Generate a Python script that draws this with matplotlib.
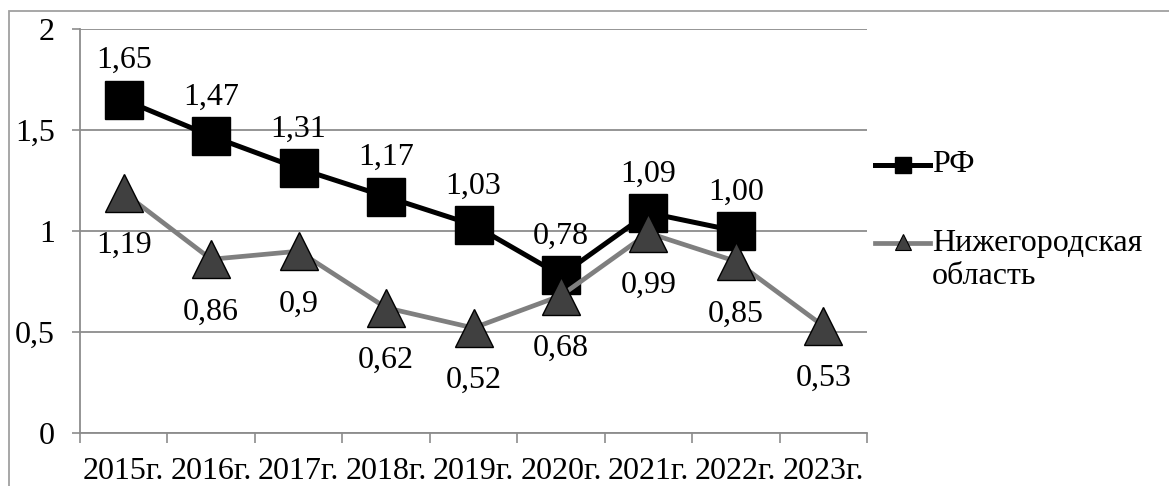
import matplotlib
matplotlib.use('Agg')
import matplotlib.pyplot as plt
from matplotlib.lines import Line2D
from matplotlib.patches import Rectangle

plt.rcParams['font.family'] = ['Liberation Serif', 'DejaVu Serif']

years = ['2015г.', '2016г.', '2017г.', '2018г.', '2019г.', '2020г.', '2021г.', '2022г.', '2023г.']
rf_values = [1.65, 1.47, 1.31, 1.17, 1.03, 0.78, 1.09, 1.00]
rf_labels = ['1,65', '1,47', '1,31', '1,17', '1,03', '0,78', '1,09', '1,00']
nn_values = [1.19, 0.86, 0.9, 0.62, 0.52, 0.68, 0.99, 0.85, 0.53]
nn_labels = ['1,19', '0,86', '0,9', '0,62', '0,52', '0,68', '0,99', '0,85', '0,53']
y_ticks = [0, 0.5, 1, 1.5, 2]
y_ticklabels = ['0', '0,5', '1', '1,5', '2']

W, H = 1169, 486
FS = 23
grid_col = '#8c8c8c'
nn_col = '#7f7f7f'
nn_fill = '#404040'

fig = plt.figure(figsize=(W / 100, H / 100), dpi=100)
ax = fig.add_axes([80 / W, (H - 433) / H, (867 - 80) / W, (433 - 29) / H])

# outer chart border (right/bottom fall outside the picture)
fig.add_artist(Rectangle((9 / W, -0.05), 1.2, (H - 11) / H + 0.05,
                         transform=fig.transFigure, fill=False,
                         edgecolor='#a0a0a0', linewidth=1.3))

x_rf = list(range(len(rf_values)))
x_nn = list(range(len(nn_values)))

ax.plot(x_rf, rf_values, color='black', linewidth=3.6, marker='s',
        markersize=27, markerfacecolor='black', markeredgecolor='black', zorder=3)
ax.plot(x_nn, nn_values, color=nn_col, linewidth=3.4, marker='^',
        markersize=27, markerfacecolor=nn_fill, markeredgecolor='black',
        markeredgewidth=1.0, zorder=4)

for x, v, t in zip(x_rf, rf_values, rf_labels):
    ax.annotate(t, (x, v), xytext=(0, 28), textcoords='offset points',
                ha='center', va='center', fontsize=FS, zorder=5)
for x, v, t in zip(x_nn, nn_values, nn_labels):
    ax.annotate(t, (x, v), xytext=(0, -38), textcoords='offset points',
                ha='center', va='center', fontsize=FS, zorder=5)

ax.set_xlim(-0.5, len(years) - 0.5)
ax.set_ylim(0, 2)

ax.set_yticks(y_ticks)
ax.set_yticklabels(y_ticklabels, fontsize=FS)
ax.tick_params(axis='y', length=6, width=1.2, color=grid_col, pad=12)

ax.set_xticks([i - 0.5 for i in range(len(years) + 1)])
ax.set_xticklabels([])
ax.set_xticks(range(len(years)), minor=True)
ax.set_xticklabels(years, minor=True, fontsize=FS)
ax.tick_params(axis='x', which='major', length=7, width=1.2, color=grid_col, direction='out')
ax.tick_params(axis='x', which='minor', length=0, pad=17)

ax.grid(axis='y', color=grid_col, linewidth=1.3)
ax.set_axisbelow(True)
for s in ['top', 'right']:
    ax.spines[s].set_visible(False)
for s in ['left', 'bottom']:
    ax.spines[s].set_color(grid_col)
    ax.spines[s].set_linewidth(1.3)

# legend drawn by hand so the marker sits on the first text line
def fx(px):
    return px / W

def fy(py):
    return (H - py) / H

fig.add_artist(Line2D([fx(875), fx(930)], [fy(165), fy(165)], transform=fig.transFigure,
                      color='black', linewidth=3.6))
fig.add_artist(Line2D([fx(902.5)], [fy(165)], transform=fig.transFigure,
                      linestyle='none', marker='s', markersize=11, color='black'))
fig.add_artist(Line2D([fx(875), fx(930)], [fy(243), fy(243)], transform=fig.transFigure,
                      color=nn_col, linewidth=3.4))
fig.add_artist(Line2D([fx(902.5)], [fy(242)], transform=fig.transFigure,
                      linestyle='none', marker='^', markersize=12,
                      markerfacecolor=nn_fill, markeredgecolor='black', markeredgewidth=0.8))
fig.text(fx(932), fy(165), 'РФ', fontsize=FS, va='center', ha='left')
fig.text(fx(932), fy(243), 'Нижегородская', fontsize=FS, va='center', ha='left')
fig.text(fx(932), fy(277), 'область', fontsize=FS, va='center', ha='left')

fig.savefig('out.png', dpi=100)
